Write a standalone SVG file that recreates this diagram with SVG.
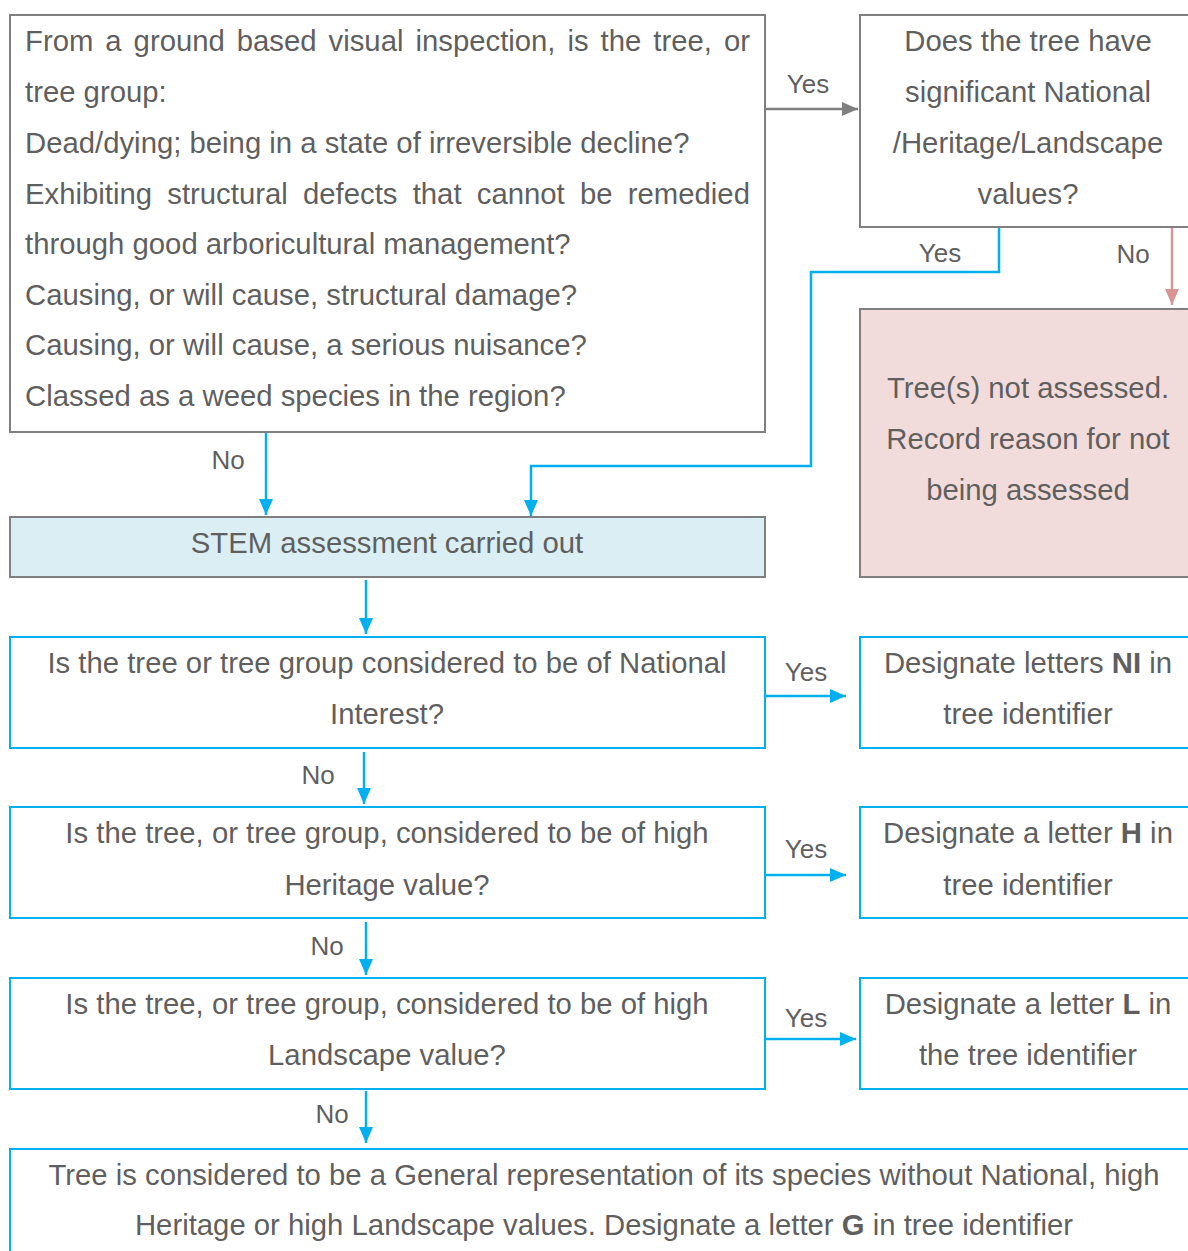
<svg xmlns="http://www.w3.org/2000/svg" width="1188" height="1251" viewBox="0 0 1188 1251">
  <style>
    text { font-family: "Liberation Sans", Arial, sans-serif; fill: #5f5f5f; }
    .t { font-size: 29.3px; }
    .c { text-anchor: middle; }
    .lbl { font-size: 26px; text-anchor: middle; }
    .b { font-weight: bold; }
    .gray { fill: #ffffff; stroke: #7f7f7f; stroke-width: 2; }
    .blue { fill: #ffffff; stroke: #00b0f0; stroke-width: 2; }
    .stem { fill: #daeef3; stroke: #7f7f7f; stroke-width: 2; }
    .pink { fill: #f2dcdb; stroke: #7f7f7f; stroke-width: 2; }
    .ln-blue { fill: none; stroke: #00b0f0; stroke-width: 2.5; }
    .ln-gray { fill: none; stroke: #7f7f7f; stroke-width: 2.5; }
    .ln-pink { fill: none; stroke: #d99594; stroke-width: 2.5; }
  </style>
  <defs>
    <marker id="ah-blue" markerUnits="userSpaceOnUse" markerWidth="16" markerHeight="16" viewBox="0 0 16 16" refX="16" refY="8" orient="auto">
      <path d="M0,1 L16,8 L0,15 Z" fill="#00b0f0"/>
    </marker>
    <marker id="ah-gray" markerUnits="userSpaceOnUse" markerWidth="16" markerHeight="16" viewBox="0 0 16 16" refX="16" refY="8" orient="auto">
      <path d="M0,1 L16,8 L0,15 Z" fill="#7f7f7f"/>
    </marker>
    <marker id="ah-pink" markerUnits="userSpaceOnUse" markerWidth="16" markerHeight="16" viewBox="0 0 16 16" refX="16" refY="8" orient="auto">
      <path d="M0,1 L16,8 L0,15 Z" fill="#d99594"/>
    </marker>
  </defs>

  <rect width="1188" height="1251" fill="#ffffff"/>

  <!-- connectors -->
  <g id="connectors">
    <path class="ln-gray" d="M765,109 H858" marker-end="url(#ah-gray)"/>
    <path class="ln-blue" d="M999,227 V272 H811 V466 H531 V516" marker-end="url(#ah-blue)"/>
    <path class="ln-pink" d="M1172,227 V305" marker-end="url(#ah-pink)"/>
    <path class="ln-blue" d="M266,432 V515" marker-end="url(#ah-blue)"/>
    <path class="ln-blue" d="M366,580 V634" marker-end="url(#ah-blue)"/>
    <path class="ln-blue" d="M765,696 H846" marker-end="url(#ah-blue)"/>
    <path class="ln-blue" d="M364,752 V804" marker-end="url(#ah-blue)"/>
    <path class="ln-blue" d="M765,875 H846" marker-end="url(#ah-blue)"/>
    <path class="ln-blue" d="M366,922 V975" marker-end="url(#ah-blue)"/>
    <path class="ln-blue" d="M765,1039 H856" marker-end="url(#ah-blue)"/>
    <path class="ln-blue" d="M366,1091 V1143" marker-end="url(#ah-blue)"/>

    <text class="lbl" x="808" y="93">Yes</text>
    <text class="lbl" x="940" y="262">Yes</text>
    <text class="lbl" x="1133" y="263">No</text>
    <text class="lbl" x="228" y="469">No</text>
    <text class="lbl" x="806" y="681">Yes</text>
    <text class="lbl" x="318" y="784">No</text>
    <text class="lbl" x="806" y="858">Yes</text>
    <text class="lbl" x="327" y="955">No</text>
    <text class="lbl" x="806" y="1027">Yes</text>
    <text class="lbl" x="332" y="1123">No</text>
  </g>

  <!-- initial screening question -->
  <g id="screening">
    <rect class="gray" x="10" y="15" width="755" height="417"/>
    <text class="t" x="25" y="51" word-spacing="3.83">From a ground based visual inspection, is the tree, or</text>
    <text class="t" x="25" y="102">tree group:</text>
    <text class="t" x="25" y="153">Dead/dying; being in a state of irreversible decline?</text>
    <text class="t" x="25" y="204" word-spacing="7.1">Exhibiting structural defects that cannot be remedied</text>
    <text class="t" x="25" y="254">through good arboricultural management?</text>
    <text class="t" x="25" y="305">Causing, or will cause, structural damage?</text>
    <text class="t" x="25" y="355">Causing, or will cause, a serious nuisance?</text>
    <text class="t" x="25" y="406">Classed as a weed species in the region?</text>
  </g>

  <g id="significance">
    <rect class="gray" x="860" y="15" width="340" height="212"/>
    <text class="t c" x="1028" y="51">Does the tree have</text>
    <text class="t c" x="1028" y="102">significant National</text>
    <text class="t c" x="1028" y="153">/Heritage/Landscape</text>
    <text class="t c" x="1028" y="204">values?</text>
  </g>

  <g id="not-assessed">
    <rect class="pink" x="860" y="309" width="340" height="268"/>
    <text class="t c" x="1028" y="398">Tree(s) not assessed.</text>
    <text class="t c" x="1028" y="449">Record reason for not</text>
    <text class="t c" x="1028" y="500">being assessed</text>
  </g>

  <g id="stem">
    <rect class="stem" x="10" y="517" width="755" height="60"/>
    <text class="t c" x="387" y="553">STEM assessment carried out</text>
  </g>

  <g id="q-national">
    <rect class="blue" x="10" y="637" width="755" height="111"/>
    <text class="t c" x="387" y="673">Is the tree or tree group considered to be of National</text>
    <text class="t c" x="387" y="724">Interest?</text>
  </g>

  <g id="d-national">
    <rect class="blue" x="860" y="637" width="340" height="111"/>
    <text class="t c" x="1028" y="673">Designate letters <tspan class="b">NI</tspan> in</text>
    <text class="t c" x="1028" y="724">tree identifier</text>
  </g>

  <g id="q-heritage">
    <rect class="blue" x="10" y="807" width="755" height="111"/>
    <text class="t c" x="387" y="843">Is the tree, or tree group, considered to be of high</text>
    <text class="t c" x="387" y="895">Heritage value?</text>
  </g>

  <g id="d-heritage">
    <rect class="blue" x="860" y="807" width="340" height="111"/>
    <text class="t c" x="1028" y="843">Designate a letter <tspan class="b">H</tspan> in</text>
    <text class="t c" x="1028" y="895">tree identifier</text>
  </g>

  <g id="q-landscape">
    <rect class="blue" x="10" y="978" width="755" height="111"/>
    <text class="t c" x="387" y="1014">Is the tree, or tree group, considered to be of high</text>
    <text class="t c" x="387" y="1065">Landscape value?</text>
  </g>

  <g id="d-landscape">
    <rect class="blue" x="860" y="978" width="340" height="111"/>
    <text class="t c" x="1028" y="1014">Designate a letter <tspan class="b">L</tspan> in</text>
    <text class="t c" x="1028" y="1065">the tree identifier</text>
  </g>

  <g id="general">
    <rect class="blue" x="10" y="1149" width="1190" height="120"/>
    <text class="t c" x="604" y="1185">Tree is considered to be a General representation of its species without National, high</text>
    <text class="t c" x="604" y="1235">Heritage or high Landscape values. Designate a letter <tspan class="b">G</tspan> in tree identifier</text>
  </g>
</svg>
